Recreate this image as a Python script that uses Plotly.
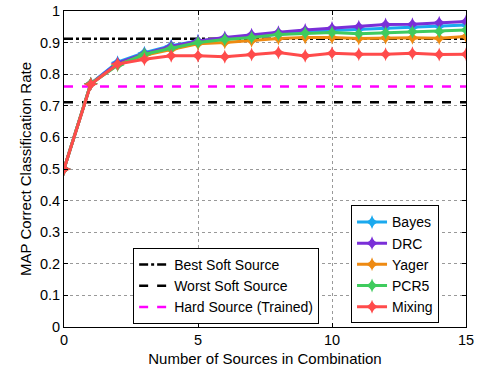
import plotly.graph_objects as go

x_vals = list(range(16))
bayes = [0.5, 0.77, 0.838, 0.868, 0.89, 0.905, 0.913, 0.92, 0.928, 0.933, 0.938, 0.942, 0.946, 0.948, 0.952, 0.956]
drc = [0.5, 0.77, 0.835, 0.865, 0.888, 0.905, 0.916, 0.925, 0.933, 0.94, 0.946, 0.95, 0.957, 0.958, 0.963, 0.967]
yager = [0.5, 0.77, 0.83, 0.86, 0.878, 0.896, 0.9, 0.906, 0.913, 0.916, 0.916, 0.913, 0.915, 0.915, 0.914, 0.919]
pcr5 = [0.5, 0.77, 0.828, 0.863, 0.882, 0.9, 0.91, 0.916, 0.926, 0.93, 0.932, 0.928, 0.931, 0.934, 0.935, 0.94]
mixing = [0.5, 0.768, 0.832, 0.847, 0.858, 0.858, 0.855, 0.862, 0.869, 0.858, 0.866, 0.863, 0.863, 0.866, 0.862, 0.863]

best_soft = 0.912
worst_soft = 0.711
hard_source = 0.761

series = [
    ("Bayes", bayes, "#1BA9EE"),
    ("DRC", drc, "#7A2FD8"),
    ("Yager", yager, "#EE8A12"),
    ("PCR5", pcr5, "#3FCB5E"),
    ("Mixing", mixing, "#FF4B4B"),
]

fig = go.Figure()

refs = [
    ("Best Soft Source", best_soft, "black", "dashdot"),
    ("Worst Soft Source", worst_soft, "black", "dash"),
    ("Hard Source (Trained)", hard_source, "#FF00FF", "dash"),
]
for name, val, col, dash in refs:
    fig.add_trace(go.Scatter(
        x=[x_vals[0], x_vals[-1]], y=[val, val], mode="lines", name=name,
        line=dict(color=col, width=2.5, dash=dash), legend="legend2",
    ))

for name, vals, col in series:
    fig.add_trace(go.Scatter(
        x=x_vals, y=vals, mode="lines+markers", name=name,
        line=dict(color=col, width=3),
        marker=dict(symbol="star-diamond", size=10, color=col),
        legend="legend",
    ))

font = dict(family="Liberation Sans, Arial, sans-serif", size=15, color="black")
fig.update_layout(
    width=479, height=370,
    margin=dict(l=64, r=13, t=11, b=43),
    paper_bgcolor="white", plot_bgcolor="white",
    font=font,
    showlegend=True,
    legend=dict(x=0.714, y=0.385, xanchor="left", yanchor="top",
                bgcolor="white", bordercolor="black", borderwidth=1,
                font=dict(size=14), tracegroupgap=0),
    legend2=dict(x=0.172, y=0.25, xanchor="left", yanchor="top",
                 bgcolor="white", bordercolor="black", borderwidth=1,
                 font=dict(size=14), tracegroupgap=0),
)
fig.update_xaxes(
    range=[0, 15], tickvals=[0, 5, 10, 15], showgrid=True,
    gridcolor="#999", griddash="dot", gridwidth=1,
    showline=True, linecolor="black", linewidth=1, mirror="ticks",
    ticks="inside", ticklen=4, tickcolor="black", zeroline=False,
    title=dict(text="Number of Sources in Combination", standoff=6, font=dict(size=15)),
    tickfont=dict(size=14.5), ticklabeloverflow="allow", automargin=False,
)
fig.update_yaxes(
    range=[0, 1], dtick=0.1, showgrid=True,
    gridcolor="#999", griddash="dot", gridwidth=1,
    showline=True, linecolor="black", linewidth=1, mirror="ticks",
    ticks="inside", ticklen=4, tickcolor="black", zeroline=False,
    title=dict(text="MAP Correct Classification Rate", standoff=4, font=dict(size=15)),
    tickfont=dict(size=14.5), tickformat=".1~f", ticklabeloverflow="allow",
    automargin=False,
)

fig.write_html(
    "out.html",
    config={"displayModeBar": False},
    post_script="document.body.style.margin='0';document.body.style.overflow='hidden';",
)
